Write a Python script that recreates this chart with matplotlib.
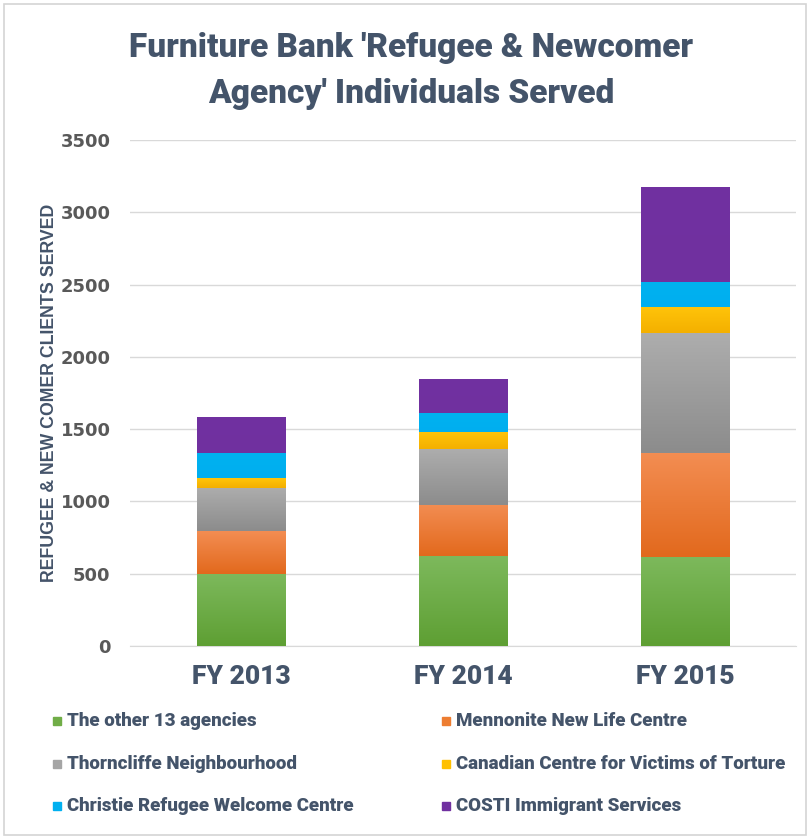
import numpy as np
import matplotlib
matplotlib.use("Agg")
import matplotlib.pyplot as plt
from matplotlib.patches import Rectangle
from matplotlib.colors import LinearSegmentedColormap

years = ["FY 2013", "FY 2014", "FY 2015"]
agencies = ["The other 13 agencies", "Mennonite New Life Centre",
            "Thorncliffe Neighbourhood", "Canadian Centre for Victims of Torture",
            "Christie Refugee Welcome Centre", "COSTI Immigrant Services"]
other13 = [500, 622, 616]
mennonite = [295, 353, 719]
thorncliffe = [298, 387, 830]
cvt = [69, 118, 180]
christie = [173, 131, 172]
costi = [249, 236, 657]
series = [other13, mennonite, thorncliffe, cvt, christie, costi]

# (top colour, bottom colour) for the gradient fills
grads = [("#7db95c", "#5e9f33"), ("#f38d52", "#e2691d"), ("#adadad", "#8c8c8c"),
         ("#ffc40a", "#f4b000"), ("#00b2f0", "#00aeef"), ("#7131a1", "#70309f")]
swatch = ["#70ad47", "#ed7d31", "#a5a5a5", "#ffc000", "#00b0f0", "#7030a0"]

title_col = "#44546a"
tick_col = "#595959"

fig = plt.figure(figsize=(8.09, 8.38), dpi=100)
W, H = 809, 838
ax = fig.add_axes([130 / W, 1 - 646 / H, (796 - 130) / W, (646 - 140) / H])

x = np.arange(len(years))
bottom = np.zeros(len(years))
for vals, (c1, c2) in zip(series, grads):
    bars = ax.bar(x, vals, 0.4, bottom=bottom, color=c2, linewidth=0, zorder=2)
    cmap = LinearSegmentedColormap.from_list("g", [c2, c1])
    grad = np.linspace(0, 1, 100).reshape(-1, 1)
    for b in bars:
        im = ax.imshow(grad, cmap=cmap, aspect="auto", origin="lower",
                       extent=(b.get_x(), b.get_x() + b.get_width(),
                               b.get_y(), b.get_y() + b.get_height()), zorder=3)
        im.set_clip_path(b)
    bottom += np.array(vals)

ax.set_xlim(-0.5, 2.5)
ax.set_ylim(0, 3500)
ax.set_yticks(range(0, 3501, 500))
ax.yaxis.grid(True, color="#d9d9d9", linewidth=1)
ax.set_axisbelow(True)
for s in ax.spines.values():
    s.set_visible(False)
ax.spines["bottom"].set_visible(True)
ax.spines["bottom"].set_color("#d9d9d9")
ax.tick_params(length=0)
ax.tick_params(axis="y", pad=14)
ax.tick_params(axis="x", pad=14)
ax.set_xticks(x)
ax.set_xticklabels(years, fontfamily="Roboto", fontweight="heavy", fontsize=19,
                   color=title_col)
for t in ax.get_yticklabels():
    t.set_fontfamily("DejaVu Sans")
    t.set_fontweight("bold")
    t.set_fontsize(13)
    t.set_color(tick_col)
ax.set_ylabel("REFUGEE & NEW COMER CLIENTS SERVED", fontfamily="Liberation Sans",
              fontweight="bold", fontsize=12.8, color=title_col, labelpad=2)

fig.text(411 / W, 1 - 48 / H, "Furniture Bank 'Refugee & Newcomer",
         ha="center", va="center", fontfamily="Roboto", fontweight="heavy",
         fontsize=24, color=title_col)
fig.text(411 / W, 1 - 94 / H, "Agency' Individuals Served",
         ha="center", va="center", fontfamily="Roboto", fontweight="heavy",
         fontsize=24, color=title_col)

# legend, two columns
cols = [57, 446]
rows = [721, 764, 806]
for i, name in enumerate(agencies):
    cx = cols[i % 2]
    cy = rows[i // 2]
    fig.patches.append(Rectangle(((cx - 4) / W, 1 - (cy + 4) / H), 8 / W, 8 / H,
                                 transform=fig.transFigure, color=swatch[i]))
    fig.text((cx + 10) / W, 1 - cy / H, name, ha="left", va="center",
             fontfamily="Roboto", fontweight="heavy", fontsize=13.5,
             color=title_col)

fig.patches.append(Rectangle((4 / W, 3 / H), 802 / W, 831 / H,
                             transform=fig.transFigure, fill=False,
                             edgecolor="#d4d4d4", linewidth=1.2))

fig.savefig("out.png", dpi=100)
